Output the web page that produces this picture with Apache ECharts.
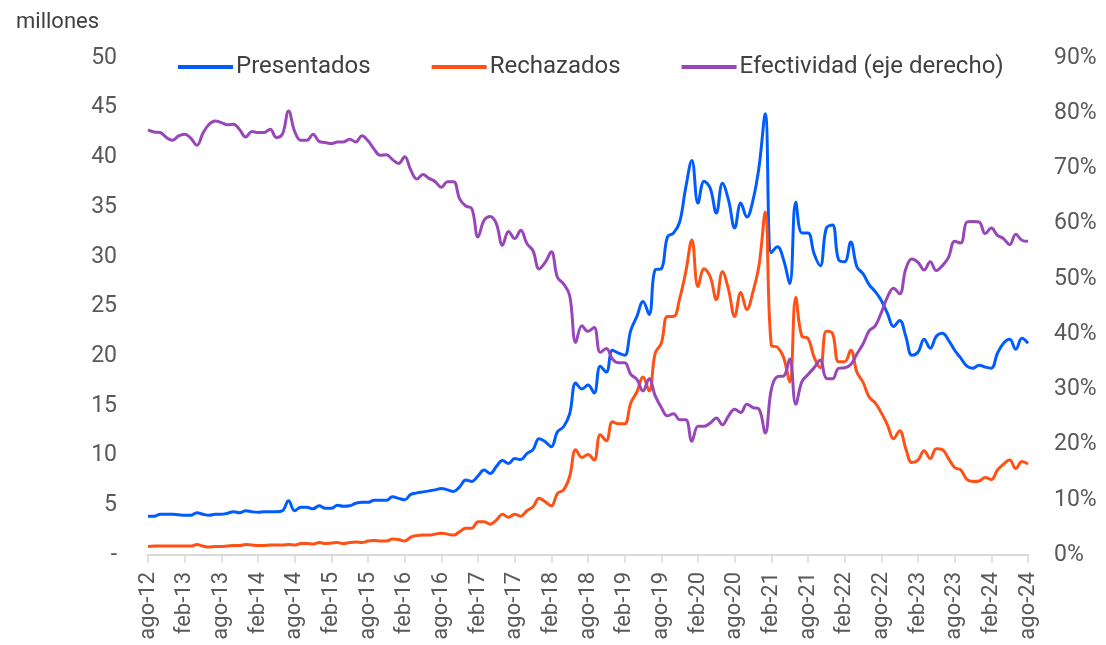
<!DOCTYPE html>
<html>
<head>
<meta charset="utf-8">
<script src="https://cdn.jsdelivr.net/npm/echarts@6/dist/echarts.min.js"></script>
<style>
  html, body { margin: 0; padding: 0; background: #fff; }
  #chart { width: 1106px; height: 645px; }
</style>
</head>
<body>
<div id="chart"></div>
<script>
// meses ago-12 .. ago-24
const monthNames = ['ene', 'feb', 'mar', 'abr', 'may', 'jun', 'jul', 'ago', 'sep', 'oct', 'nov', 'dic']
const months = []
for (let y = 2012; y <= 2024; y++) {
  monthNames.forEach((m, k) => {
    if ((y === 2012 && k < 7) || (y === 2024 && k > 7)) return
    months.push(m + '-' + String(y).slice(2))
  })
}

// millones
const presentados = [
  3.9, 3.9, 4.1, 4.1, 4.1, 4.05, 4.0, 4.0, 4.25, 4.1,
  4.0, 4.1, 4.1, 4.2, 4.35, 4.25, 4.45, 4.35, 4.3, 4.35,
  4.35, 4.35, 4.45, 5.45, 4.45, 4.8, 4.8, 4.65, 4.95, 4.7,
  4.7, 5.0, 4.9, 4.95, 5.2, 5.3, 5.3, 5.5, 5.5, 5.5,
  5.85, 5.7, 5.55, 6.1, 6.25, 6.35, 6.45, 6.55, 6.7, 6.55,
  6.4, 6.85, 7.55, 7.4, 7.95, 8.55, 8.2, 8.9, 9.5, 9.2,
  9.7, 9.6, 10.2, 10.6, 11.7, 11.4, 10.9, 12.4, 12.9, 14.2,
  17.3, 16.7, 17.1, 16.3, 19.0, 18.4, 20.6, 20.3, 20.1, 22.6,
  24.0, 25.5, 24.2, 28.7, 28.8, 32.0, 32.4, 33.5, 37.0, 39.7,
  35.4, 37.6, 36.9, 34.4, 37.4, 35.7, 32.9, 35.4, 34.0, 35.7,
  39.1, 44.4, 30.4, 31.0, 29.7, 27.3, 35.5, 32.4, 32.4, 30.3,
  29.1, 32.9, 33.2, 29.7, 29.5, 31.5, 29.0, 28.3, 27.2, 26.5,
  25.6, 24.3, 23.0, 23.6, 22.0, 20.1, 20.4, 21.7, 20.8, 22.0,
  22.3, 21.6, 20.6, 19.8, 19.0, 18.8, 19.1, 18.9, 18.8, 20.3,
  21.3, 21.7, 20.7, 21.8, 21.3
]

const rechazados = [
  0.85, 0.9, 0.9, 0.9, 0.9, 0.9, 0.9, 0.9, 1.05, 0.9,
  0.8, 0.85, 0.85, 0.9, 0.95, 0.95, 1.05, 1.0, 0.95, 0.95,
  1.0, 1.0, 1.0, 1.05, 1.0, 1.15, 1.15, 1.1, 1.25, 1.15,
  1.2, 1.25, 1.15, 1.25, 1.3, 1.25, 1.4, 1.45, 1.4, 1.4,
  1.6, 1.55, 1.4, 1.8, 1.95, 2.0, 2.0, 2.1, 2.2, 2.1,
  2.0, 2.35, 2.7, 2.7, 3.35, 3.35, 3.1, 3.5, 4.1, 3.8,
  4.1, 3.9, 4.45, 4.85, 5.7, 5.35, 4.95, 6.2, 6.55, 7.9,
  10.6, 9.8, 10.1, 9.55, 12.1, 11.5, 13.4, 13.2, 13.2, 15.3,
  16.4, 17.9, 16.5, 20.3, 21.3, 24.0, 24.0, 25.8, 28.5, 31.7,
  27.0, 28.8, 28.0, 25.7, 28.5, 26.7, 24.0, 26.4, 24.7, 26.5,
  29.2, 34.5, 21.1, 20.9, 19.9, 17.4, 25.9, 22.0, 21.8, 19.9,
  18.85, 22.5, 22.3, 19.45, 19.45, 20.6, 18.4, 17.4, 15.9, 15.3,
  14.3, 13.1, 11.7, 12.5, 10.7, 9.3, 9.55, 10.5, 9.7, 10.7,
  10.6, 9.7, 8.8, 8.55, 7.6, 7.4, 7.45, 7.8, 7.6, 8.55,
  9.15, 9.55, 8.7, 9.4, 9.15
]

// porcentaje (eje derecho)
const efectividad = [
  77.0, 76.6, 76.5, 75.6, 75.1, 75.9, 76.2, 75.5, 74.2, 76.4,
  78.0, 78.6, 78.3, 77.9, 78.0, 77.0, 75.7, 76.7, 76.5, 76.5,
  77.1, 75.6, 76.2, 80.4, 76.7, 75.1, 75.1, 76.2, 74.9, 74.7,
  74.5, 74.8, 74.8, 75.3, 74.8, 75.9, 75.0, 73.5, 72.4, 72.5,
  71.6, 70.9, 72.1, 69.7, 68.1, 68.9, 68.2, 67.6, 66.6, 67.6,
  67.6, 64.5, 63.2, 62.7, 57.6, 60.6, 61.3, 60.0, 56.1, 58.6,
  57.3, 58.8, 56.4, 55.1, 51.8, 53.0, 54.9, 50.3, 49.1, 47.0,
  38.5, 41.5, 40.5, 41.2, 36.7, 37.4, 35.5, 34.8, 34.8, 32.7,
  31.8, 29.7, 31.9, 28.8, 26.7, 25.2, 25.6, 24.5, 24.5, 20.6,
  23.3, 23.3, 23.9, 24.8, 23.6, 25.2, 26.4, 25.8, 27.3, 26.7,
  26.4, 22.1, 30.0, 32.3, 32.4, 35.5, 27.3, 31.4, 32.7, 33.9,
  35.3, 32.0, 31.9, 33.8, 33.9, 34.5, 36.4, 38.2, 40.6, 41.5,
  43.9, 46.7, 48.3, 47.3, 51.8, 53.6, 53.0, 51.6, 53.1, 51.5,
  52.4, 53.9, 56.8, 56.5, 60.3, 60.4, 60.3, 58.2, 59.2, 57.9,
  57.3, 56.2, 58.1, 57.0, 56.8
]

const gray = '#595959'
const axisGray = '#d9d9d9'

const myChart = echarts.init(document.getElementById('chart'))
const option = {
  textStyle: { fontFamily: 'Roboto' },
  title: {
    text: 'millones',
    left: 11,
    top: 6,
    textStyle: { fontSize: 22, fontWeight: 'normal', color: '#404040' },
  },
  legend: {
    top: 50,
    left: 173,
    itemWidth: 55,
    itemHeight: 4,
    itemGap: 61,
    icon: 'rect',
    textStyle: { fontSize: 24, color: '#404040', padding: [0, 0, 0, -2] },
    data: ['Presentados', 'Rechazados', 'Efectividad (eje derecho)'],
  },
  grid: { left: 148, right: 78, top: 58, bottom: 90 },
  xAxis: {
    type: 'category',
    data: months,
    boundaryGap: false,
    axisLine: { lineStyle: { color: axisGray, width: 2 } },
    axisTick: { interval: 5, length: 8, lineStyle: { color: axisGray, width: 1.5 } },
    axisLabel: { interval: 5, rotate: 90, fontSize: 22, color: gray, margin: 17 },
    splitLine: { show: false },
  },
  yAxis: [
    {
      type: 'value',
      min: 0,
      max: 50,
      interval: 5,
      splitLine: { show: false },
      axisLine: { show: false },
      axisTick: { show: false },
      axisLabel: {
        fontSize: 23,
        color: gray,
        margin: 31,
        formatter: (v) => (v === 0 ? '-' : String(v)),
      },
    },
    {
      type: 'value',
      min: 0,
      max: 90,
      interval: 10,
      position: 'right',
      splitLine: { show: false },
      axisLine: { show: false },
      axisTick: { show: false },
      axisLabel: { fontSize: 23, color: gray, margin: 26, formatter: '{value}%' },
    },
  ],
  series: [
    {
      name: 'Presentados',
      type: 'line',
      data: presentados,
      smooth: 0.4,
      showSymbol: false,
      color: '#005CFF',
      lineStyle: { width: 3 },
    },
    {
      name: 'Rechazados',
      type: 'line',
      data: rechazados,
      smooth: 0.4,
      showSymbol: false,
      color: '#FF5115',
      lineStyle: { width: 3 },
    },
    {
      name: 'Efectividad (eje derecho)',
      type: 'line',
      yAxisIndex: 1,
      data: efectividad,
      smooth: 0.4,
      showSymbol: false,
      color: '#9747B8',
      lineStyle: { width: 3 },
    },
  ],
}
myChart.setOption(option)
</script>
</body>
</html>
